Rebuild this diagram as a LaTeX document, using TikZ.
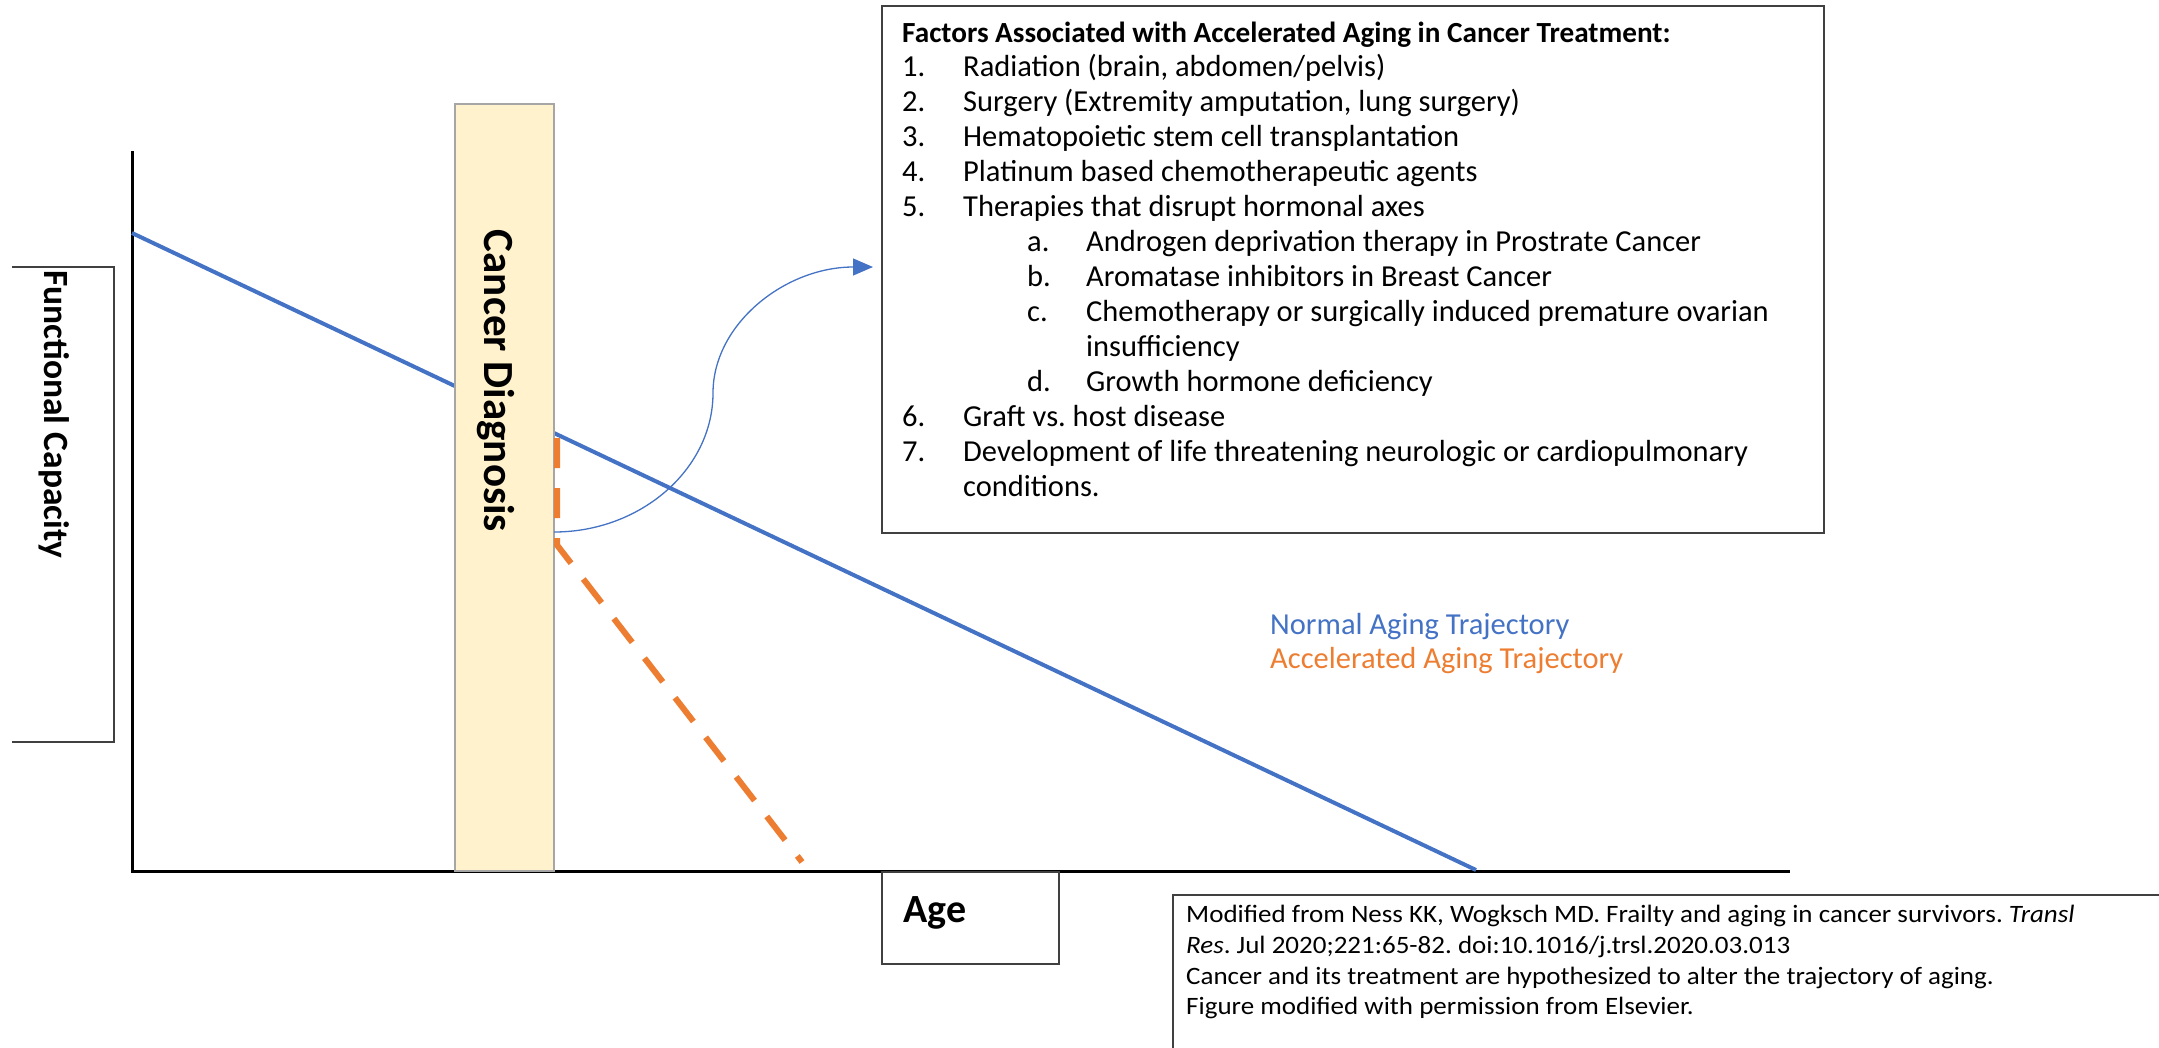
\documentclass[tikz,border=0pt]{standalone}
\usepackage{fontspec}
\setmainfont{Carlito}
\newfontfamily\notefont[FakeStretch=1.08]{Carlito}
\usetikzlibrary{arrows.meta}
\frenchspacing

\definecolor{agingblue}{HTML}{4472C4}
\definecolor{agingorange}{HTML}{ED7D31}
\definecolor{dxfill}{HTML}{FFF2CC}
\definecolor{dxdraw}{HTML}{A6A6A6}
\definecolor{framegray}{HTML}{404040}

\begin{document}
\begin{tikzpicture}
        [x=1pt, y=-1pt,
        frame/.style={draw=framegray, line width=2pt, inner sep=0pt},
        axis/.style={line width=3pt},
        normal/.style={agingblue, line width=4pt},
        accel/.style={agingorange, line width=6pt, dash pattern=on 30pt off 20pt},
        arr/.style={agingblue, line width=1.3pt, -{Triangle[length=20pt, width=17pt]}},
        txt/.style={anchor=base west, inner sep=0pt, font=\fontsize{30.5pt}{35pt}\selectfont},
        big/.style={inner sep=0pt, font=\fontsize{40pt}{48pt}\selectfont\bfseries},
        note/.style={anchor=base west, inner sep=0pt, font=\notefont\fontsize{25pt}{30pt}\selectfont}]
        \useasboundingbox (0,0) rectangle (2159,1047);

        % axes and the age / capacity boxes
        \coordinate (ytop) at (132,151);
        \coordinate (xend) at (1790,871);
        \draw[axis] (ytop) |- (xend);
        \draw[framegray, line width=1.5pt] (12,267) -| (114,742) -- (12,742);
        \node (fclabel) at (54,270) [big, font=\fontsize{35.5pt}{44pt}\selectfont\bfseries, rotate=-90, anchor=west] {Functional Capacity};
        \node (agebox) at (881,871) [frame, anchor=north west, minimum width=177pt, minimum height=92pt] {};
        \node (agelabel) at (903,922) [big, anchor=base west] {Age};

        % trajectories, the bar goes over the normal one
        \coordinate (nstart) at (132,233);
        \coordinate (nend) at (1476,870);
        \draw[normal] (nstart) -- (nend);
        \node (dx) at (454,103) [draw=dxdraw, fill=dxfill, line width=2pt, inner sep=0pt,
           anchor=north west, minimum width=99pt, minimum height=767pt] {};
        \node (dxlabel) at (496,381) [big, font=\fontsize{43pt}{50pt}\selectfont\bfseries, rotate=-90] {Cancer Diagnosis};
        \coordinate (split) at (557,438);
        \coordinate (bend) at (557,545);
        \coordinate (aend) at (802,862);
        \draw[accel] (split) -- (bend) -- (aend);

        % factors box
        \node (factors) at (881,5) [frame, anchor=north west, minimum width=942pt, minimum height=527pt] {};
        \node (title) at (902,42) [txt, font=\fontsize{29.2pt}{35pt}\selectfont\bfseries]
           {Factors Associated with Accelerated Aging in Cancer Treatment:};
        \foreach \yy/\nn/\itm [count=\k] in {76/1./{Radiation (brain, abdomen/pelvis)},
           111/2./{Surgery (Extremity amputation, lung surgery)},
           146/3./{Hematopoietic stem cell transplantation},
           181/4./{Platinum based chemotherapeutic agents},
           216/5./{Therapies that disrupt hormonal axes},
           426/6./{Graft vs. host disease},
           461/7./{Development of life threatening neurologic or cardiopulmonary}}
           {
           \node (num\k) at (902,\yy) [txt] {\nn};
           \node (item\k) at (963,\yy) [txt] {\itm};
           }
        \node (item8) at (963,496) [txt] {conditions.};
        \foreach \yy/\nn/\itm [count=\k] in {251/a./{Androgen deprivation therapy in Prostrate Cancer},
           286/b./{Aromatase inhibitors in Breast Cancer},
           321/c./{Chemotherapy or surgically induced premature ovarian},
           391/d./{Growth hormone deficiency}}
           {
           \node (sub\k) at (1027,\yy) [txt] {\nn};
           \node (subitem\k) at (1086,\yy) [txt] {\itm};
           }
        \node (subitem5) at (1086,356) [txt] {insufficiency};

        % arrow from the diagnosis to the list
        \coordinate (arcstart) at (554,532);
        \coordinate (arcend) at (873,267);
        \draw[arr] (arcstart) .. controls (641,532) and (713,469) .. (713,393)
           .. controls (713,324) and (785,267) .. (arcend);

        % legend
        \node (normallab) at (1270,634) [txt, text=agingblue] {Normal Aging Trajectory};
        \node (accellab) at (1270,668) [txt, text=agingorange] {Accelerated Aging Trajectory};

        % source note
        \draw[framegray, line width=2pt] (1173,1060) |- (2170,895);
        \node (src1) at (1186,922) [note] {Modified from Ness KK, Wogksch MD. Frailty and aging in cancer survivors. \textit{Transl}};
        \node (src2) at (1186,953) [note] {\textit{Res}. Jul 2020;221:65-82. doi:10.1016/j.trsl.2020.03.013};
        \node (src3) at (1186,984) [note] {Cancer and its treatment are hypothesized to alter the trajectory of aging.};
        \node (src4) at (1186,1014) [note] {Figure modified with permission from Elsevier.};
\end{tikzpicture}
\end{document}
